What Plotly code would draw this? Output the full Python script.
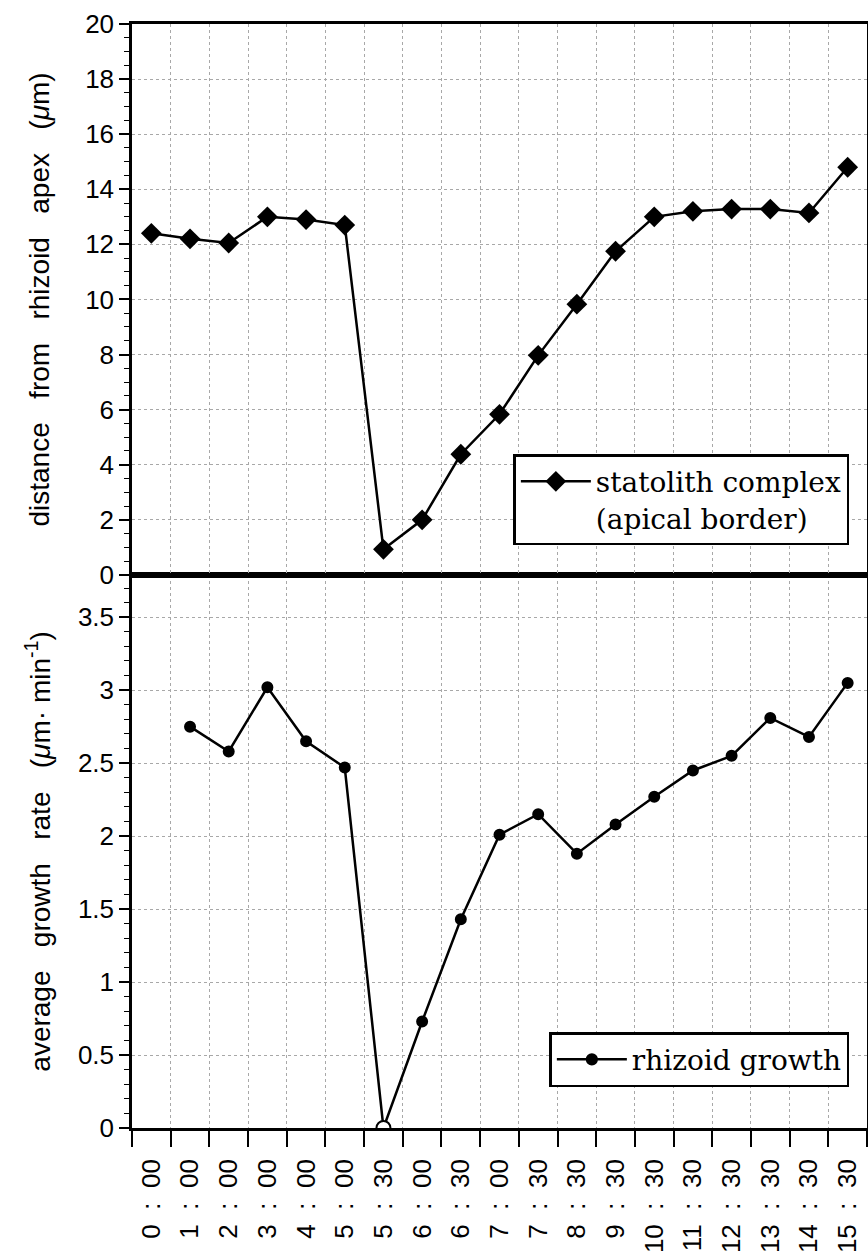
import plotly.graph_objects as go

NB = "\u00a0"

hours = ["0", "1", "2", "3", "4", "5", "5", "6", "6", "7", "7", "8", "9",
         "10", "11", "12", "13", "14", "15"]
minutes = ["00", "00", "00", "00", "00", "00", "30", "00", "30", "00", "30",
           "30", "30", "30", "30", "30", "30", "30", "30"]
time_labels = [f"{h}{NB*2}:{NB*2}{m}" for h, m in zip(hours, minutes)]

statolith = [12.4, 12.2, 12.05, 13.0, 12.9, 12.7, 0.93, 2.0, 4.38, 5.83, 7.97,
             9.83, 11.75, 13.0, 13.2, 13.28, 13.28, 13.14, 14.8]
growth = [None, 2.75, 2.58, 3.02, 2.65, 2.47, 0.0, 0.73, 1.43, 2.01, 2.15,
          1.88, 2.08, 2.27, 2.45, 2.55, 2.81, 2.68, 3.05]

top_name = "statolith complex<br>(apical border)"
bottom_name = "rhizoid growth"
top_title = f"distance{NB*3}from{NB*3}rhizoid{NB*3}apex{NB*3}(<i>μ</i>m)"
bottom_title = f"average{NB*3}growth{NB*3}rate{NB*3}(<i>μ</i>m·{NB}min<sup>-1</sup>)"

fill_colors = ["white" if v == 0 else "black" for v in growth]
sizes = [14 if v == 0 else 10 for v in growth]

fig = go.Figure()
fig.add_trace(go.Scatter(
    x=time_labels, y=statolith, xaxis="x2", yaxis="y2",
    mode="lines+markers", name=top_name, legend="legend",
    line=dict(color="black", width=2.5),
    marker=dict(symbol="diamond", size=16, color="black", opacity=1),
))
fig.add_trace(go.Scatter(
    x=time_labels, y=growth, xaxis="x", yaxis="y",
    mode="lines+markers", name=bottom_name, legend="legend2",
    line=dict(color="black", width=2.5),
    marker=dict(symbol="circle", size=sizes, color=fill_colors, opacity=1,
                line=dict(color="black", width=2)),
))

tick_font = dict(family="Liberation Sans, Arial", size=26, color="black")
title_font = dict(family="Liberation Sans, Arial", size=28, color="black")
legend_font = dict(family="DejaVu Serif", size=28, color="black")
grid = dict(showgrid=True, gridcolor="#a8a8a8", griddash="dot", gridwidth=1)
split = 0.501

fig.update_layout(
    width=868, height=1255,
    margin=dict(l=132, r=1, t=24, b=127, autoexpand=False),
    paper_bgcolor="white", plot_bgcolor="white",
    font=dict(family="Liberation Sans, Arial", color="black"),
    xaxis=dict(
        domain=[0, 1], anchor="y", type="category",
        categoryorder="array", categoryarray=time_labels,
        range=[-0.5, 18.5], tickson="boundaries", automargin=False,
        ticks="outside", ticklen=16, tickwidth=2, tickcolor="black",
        tickangle=-90, tickfont=tick_font, ticklabelstandoff=18,
        showline=True, linecolor="black", linewidth=2.5, mirror=True,
        zeroline=False, **grid,
    ),
    xaxis2=dict(
        domain=[0, 1], anchor="y2", matches="x", type="category",
        categoryorder="array", categoryarray=time_labels,
        range=[-0.5, 18.5], tickson="boundaries", automargin=False,
        ticks="", showticklabels=False,
        showline=True, linecolor="black", linewidth=2.5, mirror=True,
        zeroline=False, **grid,
    ),
    yaxis=dict(
        domain=[0, split], anchor="x", range=[0, 3.79], dtick=0.5, tick0=0,
        automargin=False,
        ticks="outside", ticklen=10, tickwidth=1.5, tickcolor="black",
        tickfont=tick_font,
        minor=dict(dtick=0.1, ticks="outside", ticklen=5, tickcolor="black",
                   tickwidth=1, showgrid=False),
        showline=True, linecolor="black", linewidth=2.5, mirror=True,
        zeroline=False, **grid,
        title=dict(text=bottom_title, standoff=20, font=title_font),
    ),
    yaxis2=dict(
        domain=[split, 1], anchor="x2", range=[0, 20], dtick=2, tick0=0,
        automargin=False,
        ticks="outside", ticklen=10, tickwidth=1.5, tickcolor="black",
        tickfont=tick_font,
        minor=dict(dtick=0.5, ticks="outside", ticklen=5, tickcolor="black",
                   tickwidth=1, showgrid=False),
        showline=True, linecolor="black", linewidth=2.5, mirror=True,
        zeroline=False, **grid,
        title=dict(text=top_title, standoff=28, font=title_font),
    ),
    legend=dict(
        x=0.976, xanchor="right", y=0.528, yanchor="bottom",
        bgcolor="white", bordercolor="black", borderwidth=2.5,
        font=legend_font, valign="top", itemwidth=70,
    ),
    legend2=dict(
        x=0.976, xanchor="right", y=0.037, yanchor="bottom",
        bgcolor="white", bordercolor="black", borderwidth=2.5,
        font=legend_font, itemwidth=70,
    ),
    showlegend=True,
)

fig.write_html(
    "out.html",
    config={"displayModeBar": False},
    post_script="document.body.style.margin='0';document.body.style.overflow='hidden';",
)
